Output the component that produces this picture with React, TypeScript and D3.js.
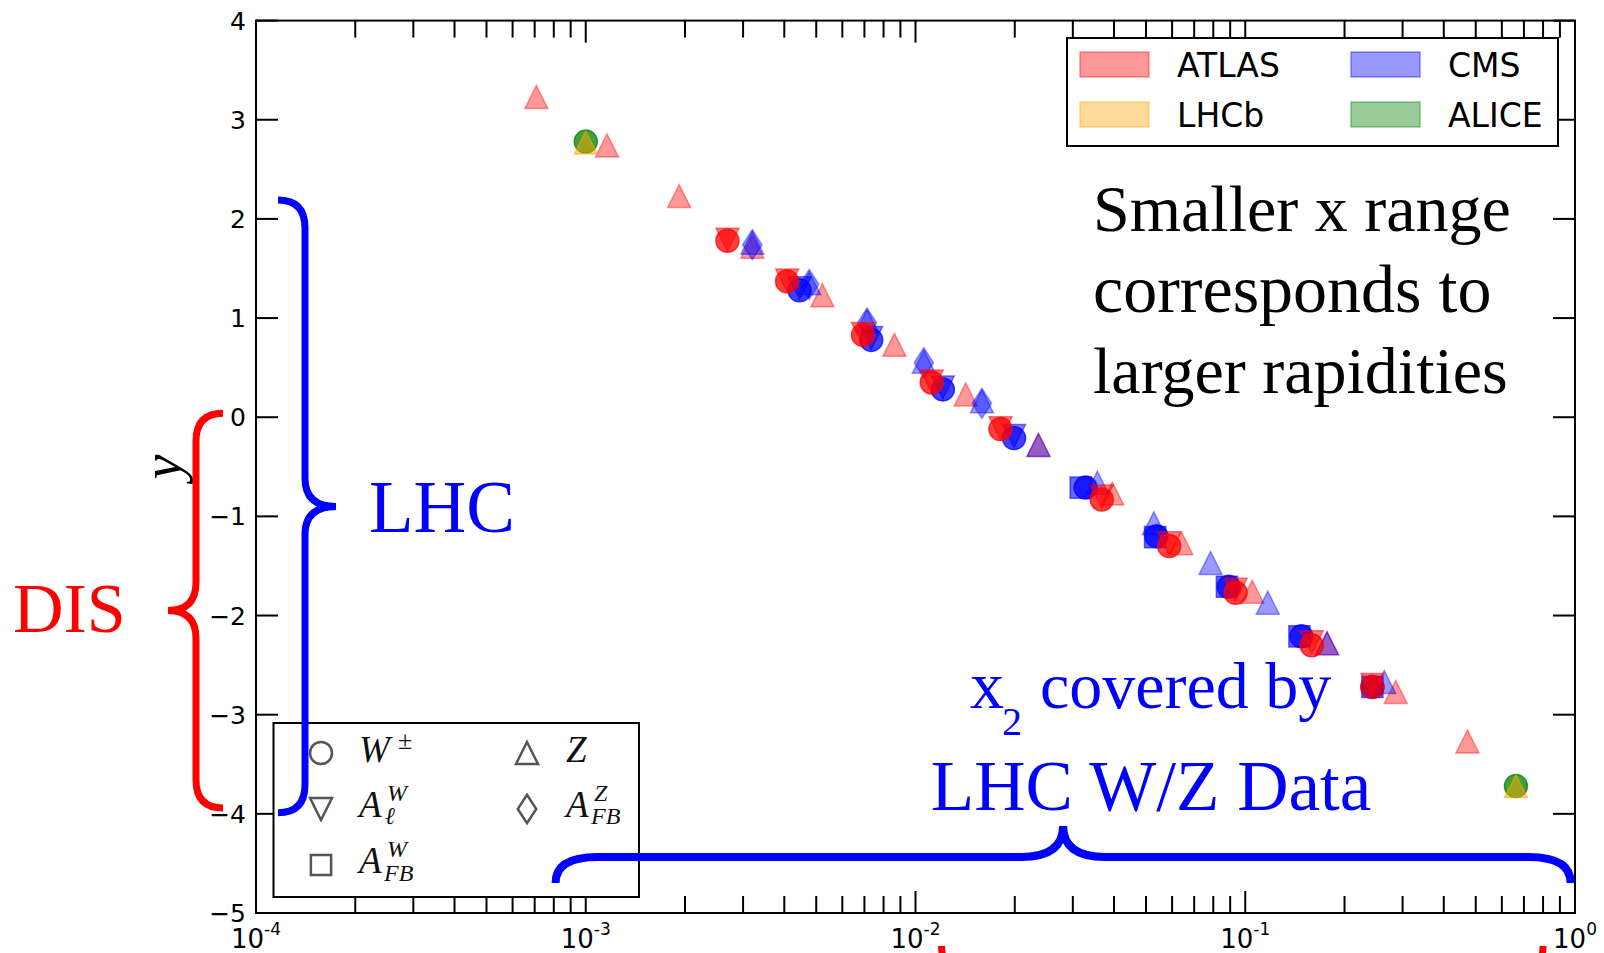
import React from "react";
import * as d3 from "d3";

const WIDTH = 1604;
const HEIGHT = 953;

// x2 vs rapidity y
const atlasZ = [
    [7.08e-4, 3.23], [1.16e-3, 2.74], [1.92e-3, 2.23], [3.2e-3, 1.72],
    [5.22e-3, 1.23], [8.63e-3, 0.73], [1.42e-2, 0.23], [2.36e-2, -0.28],
    [3.95e-2, -0.77], [6.4e-2, -1.27], [0.105, -1.76], [0.177, -2.28],
    [0.286, -2.77], [0.472, -3.27],
];
const cmsZ = [
    [3.2e-3, 1.76], [4.76e-3, 1.35], [7.13e-3, 0.97], [1.06e-2, 0.56],
    [1.59e-2, 0.16], [2.36e-2, -0.28], [3.56e-2, -0.66], [5.28e-2, -1.07],
    [7.85e-2, -1.47], [0.117, -1.87], [0.177, -2.28], [0.264, -2.67],
];
const cmsAfbZ = [
    [3.2e-3, 1.74], [4.76e-3, 1.34], [7.13e-3, 0.95], [1.06e-2, 0.55], [1.59e-2, 0.14],
];
const cmsW = [
    [4.45e-3, 1.28], [7.34e-3, 0.78], [1.21e-2, 0.28], [1.99e-2, -0.21],
    [3.28e-2, -0.71], [5.38e-2, -1.2], [8.91e-2, -1.71], [0.148, -2.21], [0.243, -2.72],
];
const cmsAlW = [
    [4.45e-3, 1.3], [7.34e-3, 0.8], [1.21e-2, 0.3], [1.99e-2, -0.19],
];
const cmsAfbW = [
    [3.17e-2, -0.71], [5.33e-2, -1.21], [8.8e-2, -1.71], [0.146, -2.21], [0.243, -2.72],
];
const atlasW = [
    [2.69e-3, 1.78], [4.08e-3, 1.37], [6.93e-3, 0.83], [1.12e-2, 0.35],
    [1.81e-2, -0.12], [3.67e-2, -0.83], [5.88e-2, -1.3], [9.35e-2, -1.77],
    [0.159, -2.3], [0.243, -2.72],
];
const atlasAlW = [
    [2.69e-3, 1.79], [4.08e-3, 1.38], [6.93e-3, 0.84], [1.12e-2, 0.36],
    [1.81e-2, -0.11], [3.67e-2, -0.8], [5.88e-2, -1.27], [9.35e-2, -1.74],
    [0.159, -2.27], [0.243, -2.7],
];
const aliceW = [[1.0e-3, 2.78], [0.662, -3.72]];
const lhcbZ = [[1.0e-3, 2.77], [0.662, -3.72]];

const yTicks = [4, 3, 2, 1, 0, -1, -2, -3, -4, -5];
const xDecades = [-4, -3, -2, -1, 0];

const experiments = ["ATLAS", "LHCb", "CMS", "ALICE"];
const expColors = ["#ff0000", "#ffa500", "#0000ff", "#008000"];

const RED = expColors[0];
const ORANGE = expColors[1];
const BLUE = expColors[2];
const GREEN = expColors[3];

const S = 23; // marker size

function markerPath(shape, s) {
    const h = s / 2;
    if (shape === "tri") return `M0,${-h}L${h},${h}L${-h},${h}Z`;
    if (shape === "tridown") return `M0,${h}L${h},${-h}L${-h},${-h}Z`;
    if (shape === "square") {
        const q = s * 0.46;
        return `M${-q},${-q}H${q}V${q}H${-q}Z`;
    }
    if (shape === "diamond") return `M0,${-s * 0.65}L${s * 0.42},0L0,${s * 0.65}L${-s * 0.42},0Z`;
    const p = d3.path();
    p.arc(0, 0, h, 0, Math.PI * 2);
    return p.toString();
}

// vertical curly brace, dir = +1 points right, -1 points left
function vBrace(x, y0, y1, dir, curl, tip) {
    const ym = (y0 + y1) / 2;
    const e = x - dir * curl;
    const t = x + dir * tip;
    return `M${e},${y0} Q${x},${y0} ${x},${y0 + 28} L${x},${ym - 28} Q${x},${ym} ${t},${ym} ` +
        `Q${x},${ym} ${x},${ym + 28} L${x},${y1 - 28} Q${x},${y1} ${e},${y1}`;
}

function hBrace(x0, x1, y, curl, tip, r) {
    const xm = (x0 + x1) / 2;
    const e = y + curl;
    const t = y - tip;
    return `M${x0},${e} Q${x0},${y} ${x0 + r},${y} L${xm - 42},${y} Q${xm},${y} ${xm},${t} ` +
        `Q${xm},${y} ${xm + 42},${y} L${x1 - r},${y} Q${x1},${y} ${x1},${e}`;
}

export default function App() {
    const x = d3.scaleLog().domain([1e-4, 1]).range([256, 1575]);
    const y = d3.scaleLinear().domain([-5, 4]).range([913, 20.6]);

    const [x0, x1] = x.range();
    const [yb, yt] = y.range();

    const series = [
        { pts: atlasZ, shape: "tri", color: RED, a: 0.4 },
        { pts: cmsZ, shape: "tri", color: BLUE, a: 0.4 },
        { pts: cmsAfbZ, shape: "diamond", color: BLUE, a: 0.4 },
        { pts: cmsAlW, shape: "tridown", color: BLUE, a: 0.5 },
        { pts: cmsAfbW, shape: "square", color: BLUE, a: 0.6 },
        { pts: cmsW, shape: "circle", color: BLUE, a: 0.75 },
        { pts: atlasAlW, shape: "tridown", color: RED, a: 0.5 },
        { pts: atlasW, shape: "circle", color: RED, a: 0.75 },
        { pts: aliceW, shape: "circle", color: GREEN, a: 0.75 },
        { pts: lhcbZ, shape: "tri", color: ORANGE, a: 0.5 },
    ];

    const minor = [];
    xDecades.slice(0, -1).forEach((d) => {
        for (let k = 2; k <= 9; k++) minor.push(k * Math.pow(10, d));
    });

    const tickFont = "DejaVu Sans, sans-serif";
    const serif = "Liberation Serif, serif";

    // top legend layout
    const lg = { x: 1067, y: 38, w: 491, h: 108 };
    // marker legend layout
    const ml = { x: 273.5, y: 723, w: 365.5, h: 174 };
    const markerLegend = [
        { shape: "circle", col: 0, row: 0 },
        { shape: "tridown", col: 0, row: 1 },
        { shape: "square", col: 0, row: 2 },
        { shape: "tri", col: 1, row: 0 },
        { shape: "diamond", col: 1, row: 1 },
    ];

    return (
        <svg width={WIDTH} height={HEIGHT} style={{ position: "absolute", left: 0, top: 0 }}>
            <rect width={WIDTH} height={HEIGHT} fill="white" />

            {/* data */}
            {series.map((s, i) => (
                <g key={i}>
                    {s.pts.map((p, j) => (
                        <path
                            key={j}
                            d={markerPath(s.shape, S)}
                            transform={`translate(${x(p[0])},${y(p[1])})`}
                            fill={s.color}
                            fillOpacity={s.a}
                            stroke={s.color}
                            strokeOpacity={s.a}
                            strokeWidth={1.5}
                        />
                    ))}
                </g>
            ))}

            {/* frame and ticks */}
            <rect x={x0} y={yt} width={x1 - x0} height={yb - yt} fill="none" stroke="black" strokeWidth={2} />
            {xDecades.map((d) => (
                <g key={d}>
                    <line x1={x(Math.pow(10, d))} x2={x(Math.pow(10, d))} y1={yb} y2={yb - 22} stroke="black" strokeWidth={2} />
                    <line x1={x(Math.pow(10, d))} x2={x(Math.pow(10, d))} y1={yt} y2={yt + 22} stroke="black" strokeWidth={2} />
                    <text x={x(Math.pow(10, d))} y={948} textAnchor="middle" fontFamily={tickFont} fontSize={26}>
                        10<tspan dy={-13} fontSize={17}>{d}</tspan>
                    </text>
                </g>
            ))}
            {minor.map((v) => (
                <g key={v}>
                    <line x1={x(v)} x2={x(v)} y1={yb} y2={yb - 17} stroke="black" strokeWidth={2} />
                    <line x1={x(v)} x2={x(v)} y1={yt} y2={yt + 17} stroke="black" strokeWidth={2} />
                </g>
            ))}
            {yTicks.map((t) => (
                <g key={t}>
                    <line x1={x0} x2={x0 + 22} y1={y(t)} y2={y(t)} stroke="black" strokeWidth={2} />
                    <line x1={x1} x2={x1 - 22} y1={y(t)} y2={y(t)} stroke="black" strokeWidth={2} />
                    <text x={246} y={y(t)} dy="0.36em" textAnchor="end" fontFamily={tickFont} fontSize={25}>
                        {t < 0 ? "\u2212" + Math.abs(t) : t}
                    </text>
                </g>
            ))}
            <text transform="translate(181,467) rotate(-90)" textAnchor="middle" fontFamily={serif} fontStyle="italic" fontSize={56}>
                y
            </text>

            {/* experiment legend */}
            <rect x={lg.x} y={lg.y} width={lg.w} height={lg.h} fill="white" stroke="black" strokeWidth={2} />
            {experiments.map((e, i) => {
                const col = Math.floor(i / 2);
                const row = i % 2;
                const sx = lg.x + 13 + col * 271;
                const sy = lg.y + 14 + row * 50;
                return (
                    <g key={e}>
                        <rect x={sx} y={sy} width={69} height={25} fill={expColors[i]} fillOpacity={0.4} stroke={expColors[i]} strokeOpacity={0.4} strokeWidth={1.5} />
                        <text x={sx + 97} y={sy + 25} fontFamily={tickFont} fontSize={33}>{e}</text>
                    </g>
                );
            })}

            {/* observable legend */}
            <rect x={ml.x} y={ml.y} width={ml.w} height={ml.h} fill="white" stroke="black" strokeWidth={2} />
            {markerLegend.map((m, i) => (
                <path
                    key={i}
                    d={markerPath(m.shape, 22)}
                    transform={`translate(${ml.x + 47.5 + m.col * 206},${ml.y + 30 + m.row * 56})`}
                    fill="none"
                    stroke="#555"
                    strokeWidth={2.5}
                />
            ))}
            <g fontFamily={serif} fontStyle="italic" fill="#111">
                <text x={359} y={762} fontSize={37}>W</text>
                <text x={398} y={749} fontSize={26} fontStyle="normal">±</text>
                <text x={359} y={817} fontSize={37}>A</text>
                <text x={387} y={801} fontSize={24}>W</text>
                <text x={385} y={824} fontSize={24}>ℓ</text>
                <text x={359} y={873} fontSize={37}>A</text>
                <text x={387} y={857} fontSize={24}>W</text>
                <text x={384} y={881} fontSize={24}>FB</text>
                <text x={566} y={762} fontSize={37}>Z</text>
                <text x={566} y={817} fontSize={37}>A</text>
                <text x={594} y={801} fontSize={24}>Z</text>
                <text x={591} y={824} fontSize={24}>FB</text>
            </g>

            {/* annotations */}
            <path d={vBrace(305, y(2.19), y(-3.99), 1, 27, 31)} fill="none" stroke={BLUE} strokeWidth={7} />
            <text x={369} y={532} fontFamily={serif} fontSize={73} fill={BLUE}>LHC</text>
            <path d={vBrace(196, y(0.04), y(-3.94), -1, 27, 28)} fill="none" stroke={RED} strokeWidth={7} />
            <text x={13} y={632} fontFamily={serif} fontSize={70} fill={RED}>DIS</text>
            <path d={hBrace(x(8.1e-4), x(0.97), 857, 26, 31, 42)} fill="none" stroke={BLUE} strokeWidth={8} />
            <path d={hBrace(x(1.2e-2), x(0.8), 978, -32, -20, 38)} fill="none" stroke={RED} strokeWidth={7} />

            <g fontFamily={serif} fill={BLUE}>
                <text x={970} y={708} fontSize={68}>x</text>
                <text x={1002} y={735} fontSize={40}>2</text>
                <text x={1040} y={708} fontSize={66}>covered by</text>
                <text x={1151} y={810} fontSize={71} textAnchor="middle">LHC W/Z Data</text>
            </g>
            <g fontFamily={serif} fill="black">
                <text x={1093} y={231} fontSize={66}>Smaller x range</text>
                <text x={1093} y={312} fontSize={68}>corresponds to</text>
                <text x={1093} y={393} fontSize={66}>larger rapidities</text>
            </g>
        </svg>
    );
}
